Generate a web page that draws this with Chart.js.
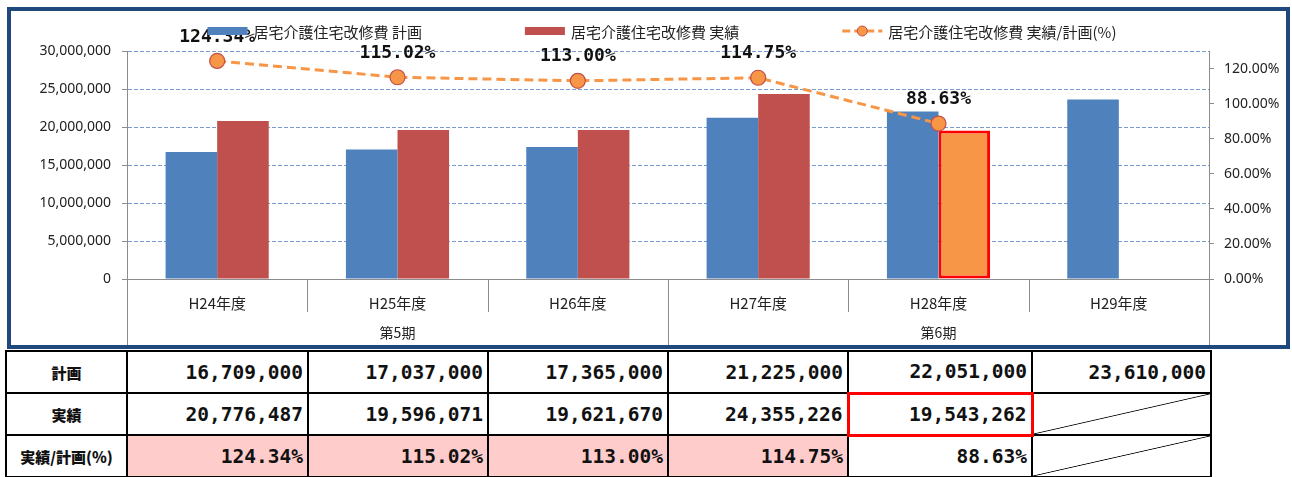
<!DOCTYPE html>
<html lang="ja">
<head>
<meta charset="utf-8">
<script src="https://cdn.jsdelivr.net/npm/chart.js@4.4.1/dist/chart.umd.min.js"></script>
<style>
  html, body { margin: 0; padding: 0; background: #fff; width: 1292px; height: 477px; overflow: hidden; }
  #box { position: absolute; left: 7px; top: 7px; width: 1283px; height: 342px; box-sizing: border-box; border: 4px solid #1F497D; background: #fff; }
  #chart { position: absolute; left: 0; top: 0; }
  #tbl { position: absolute; left: 5px; top: 350px; border-collapse: collapse; table-layout: fixed; }
  #tbl td { border: 2px solid #000; height: 38px; padding: 0 4px 0 0; text-align: right; font-family: "DejaVu Sans Mono", monospace; font-weight: bold; font-size: 19.5px; color: #111; box-sizing: border-box; }
  #tbl td.hd { text-align: center; padding: 0; font-family: "Noto Sans CJK JP", sans-serif; font-size: 15px; font-weight: 900; }
  #tbl td.pink { background: #FFCCCC; }
  #tbl td.hl { border: 3px solid #FF0000; }
  #tbl td.diag { background: linear-gradient(to top left, rgba(0,0,0,0) calc(50% - 0.8px), #000 50%, rgba(0,0,0,0) calc(50% + 0.8px)); }
</style>
</head>
<body>
<div id="box"><canvas id="chart" width="1275" height="334" style="width:1275px;height:334px"></canvas></div>
<table id="tbl"></table>
<script>
// ---- data ----
const categories = ['H24年度', 'H25年度', 'H26年度', 'H27年度', 'H28年度', 'H29年度'];
const periods = ['第5期', '第6期'];
const periodStart = [0, 3];
const periodEnd = [2, 5];
const planValues = [16709000, 17037000, 17365000, 21225000, 22051000, 23610000];
const actualValues = [20776487, 19596071, 19621670, 24355226, 19543262, null];
const ratioValues = [124.34, 115.02, 113.00, 114.75, 88.63, null];
const seriesNames = ['居宅介護住宅改修費 計画', '居宅介護住宅改修費 実績', '居宅介護住宅改修費 実績/計画(%)'];
const rowLabels = ['計画', '実績', '実績/計画(%)'];
const leftAxis = { min: 0, max: 30000000, step: 5000000 };
const rightAxis = { min: 0, max: 130, step: 20, lastLabel: 120 };
const highlightIndex = 4;

// ---- styles ----
const C_PLAN = '#4F81BD', C_ACT = '#C0504D', C_HL = '#F79646', C_HLB = '#FF0000';
const C_LINE = '#F79646', C_PTB = '#C0504D';
const C_AXIS = '#8C8C8C', C_GRID = '#7B9BD0', C_TEXT = '#222';
const CJK = "'Noto Sans CJK JP', 'Noto Sans', sans-serif";
const NUM = "'Noto Sans', sans-serif";

const fmt = v => v.toLocaleString('en-US');

const decor = {
  id: 'decor',
  afterDatasetsDraw(chart) {
    const ctx = chart.ctx;
    const meta = chart.getDatasetMeta(2);
    ctx.save();
    ctx.font = "bold 18px 'DejaVu Sans Mono', monospace";
    ctx.fillStyle = '#111';
    ctx.textAlign = 'center';
    ctx.textBaseline = 'middle';
    meta.data.forEach((pt, i) => {
      const v = ratioValues[i];
      if (v == null) return;
      ctx.fillText(v.toFixed(2) + '%', pt.x, pt.y - 24);
    });
    ctx.restore();
  },
  afterDraw(chart) {
    const ctx = chart.ctx;
    const xs = chart.scales.x;
    const area = chart.chartArea;
    const H = chart.height;
    ctx.save();
    ctx.strokeStyle = C_AXIS;
    ctx.lineWidth = 1;
    // category separators
    for (let i = 0; i <= categories.length; i++) {
      const x = Math.round(xs.getPixelForValue(i - 0.5)) + 0.5;
      const isGroupEdge = (i === 0 || i === categories.length || periodStart.includes(i));
      ctx.beginPath();
      ctx.moveTo(x, area.bottom);
      ctx.lineTo(x, isGroupEdge ? H : area.bottom + 33);
      ctx.stroke();
    }
    // period labels
    ctx.fillStyle = C_TEXT;
    ctx.font = "14px " + CJK;
    ctx.textAlign = 'center';
    ctx.textBaseline = 'middle';
    periods.forEach((p, k) => {
      const cx = (xs.getPixelForValue(periodStart[k]) + xs.getPixelForValue(periodEnd[k])) / 2;
      ctx.fillText(p, cx, area.bottom + 54);
    });
    // legend
    ctx.font = "15px " + CJK;
    ctx.textAlign = 'left';
    const symW = 40, gapT = 6, gapItem = 103;
    const widths = seriesNames.map(s => symW + gapT + ctx.measureText(s).width);
    const total = widths.reduce((a, b) => a + b, 0) + gapItem * (widths.length - 1);
    let x = 651 - total / 2;
    const ly = 20;
    const cols = [C_PLAN, C_ACT];
    seriesNames.forEach((s, k) => {
      if (k < 2) {
        ctx.fillStyle = cols[k];
        ctx.fillRect(x, ly - 4, symW, 8);
      } else {
        ctx.strokeStyle = C_LINE;
        ctx.lineWidth = 3;
        ctx.setLineDash([8, 4]);
        ctx.beginPath();
        ctx.moveTo(x, ly); ctx.lineTo(x + symW, ly);
        ctx.stroke();
        ctx.setLineDash([]);
        ctx.beginPath();
        ctx.arc(x + symW / 2, ly, 5, 0, Math.PI * 2);
        ctx.fillStyle = C_LINE; ctx.fill();
        ctx.lineWidth = 1; ctx.strokeStyle = C_PTB; ctx.stroke();
      }
      ctx.fillStyle = C_TEXT;
      ctx.fillText(s, x + symW + gapT, ly + 1);
      x += widths[k] + gapItem;
    });
    ctx.restore();
  }
};

new Chart(document.getElementById('chart'), {
  type: 'bar',
  data: {
    labels: categories,
    datasets: [
      { label: seriesNames[0], data: planValues, backgroundColor: C_PLAN, yAxisID: 'y', order: 2 },
      { label: seriesNames[1], data: actualValues,
        backgroundColor: actualValues.map((v, i) => i === highlightIndex ? C_HL : C_ACT),
        borderColor: actualValues.map((v, i) => i === highlightIndex ? C_HLB : C_ACT),
        borderWidth: actualValues.map((v, i) => i === highlightIndex ? 3 : 0),
        borderSkipped: false,
        yAxisID: 'y', order: 2 },
      { type: 'line', label: seriesNames[2], data: ratioValues, yAxisID: 'y2', order: 0,
        borderColor: C_LINE, borderWidth: 3, borderDash: [9, 5], tension: 0, fill: false,
        pointRadius: 7.5, pointHoverRadius: 7.5, pointBackgroundColor: C_LINE,
        pointBorderColor: C_PTB, pointBorderWidth: 1.2 }
    ]
  },
  options: {
    responsive: false,
    animation: false,
    devicePixelRatio: 1,
    datasets: { bar: { categoryPercentage: 0.572, barPercentage: 1.0 } },
    layout: { padding: { top: 40, left: 0, right: 0, bottom: 0 } },
    plugins: { legend: { display: false }, tooltip: { enabled: false } },
    scales: {
      x: {
        offset: true,
        grid: { display: true, offset: true, drawOnChartArea: false, drawTicks: false, color: C_AXIS },
        border: { display: true, color: C_AXIS, width: 1 },
        ticks: { padding: 15, color: C_TEXT, font: { size: 15, family: CJK }, maxRotation: 0, autoSkip: false },
        afterFit: s => { s.height = 66; }
      },
      y: {
        position: 'left',
        min: leftAxis.min, max: leftAxis.max,
        ticks: { stepSize: leftAxis.step, padding: 11, color: C_TEXT, font: { size: 14, family: NUM }, callback: v => fmt(v) },
        grid: { color: c => (c.tick && c.tick.value === 0) ? 'rgba(0,0,0,0)' : C_GRID, lineWidth: 1, drawTicks: true, tickLength: 5, tickColor: C_AXIS },
        border: { display: true, color: C_AXIS, width: 1, dash: [4, 2] },
        afterFit: s => { s.width = 116; }
      },
      y2: {
        position: 'right',
        min: rightAxis.min, max: rightAxis.max,
        ticks: { stepSize: rightAxis.step, padding: 10, color: C_TEXT, font: { size: 14, family: NUM }, callback: v => v.toFixed(2) + '%' },
        afterBuildTicks: s => { s.ticks = s.ticks.filter(t => t.value <= rightAxis.lastLabel + 1e-9); },
        grid: { drawOnChartArea: false, drawTicks: true, tickLength: 5, tickColor: C_AXIS, color: C_AXIS },
        border: { display: true, color: C_AXIS, width: 1 },
        afterFit: s => { s.width = 77; }
      }
    }
  },
  plugins: [decor]
});

// ---- table ----
const tbl = document.getElementById('tbl');
const colW = [121, 181, 180, 180, 180, 184, 179];
const cg = document.createElement('colgroup');
colW.forEach(w => { const c = document.createElement('col'); c.style.width = w + 'px'; cg.appendChild(c); });
tbl.appendChild(cg);
function addRow(label, vals, render, cls) {
  const tr = document.createElement('tr');
  tr.style.height = '42px';
  const th = document.createElement('td');
  th.className = 'hd'; th.textContent = label; tr.appendChild(th);
  vals.forEach((v, i) => {
    const td = document.createElement('td');
    if (v == null) { td.className = 'diag'; td.textContent = ''; }
    else { td.textContent = render(v); const c = cls(v, i); if (c) td.className = c; }
    tr.appendChild(td);
  });
  tbl.appendChild(tr);
}
addRow(rowLabels[0], planValues, fmt, () => '');
addRow(rowLabels[1], actualValues, fmt, (v, i) => i === highlightIndex ? 'hl' : '');
addRow(rowLabels[2], ratioValues, v => v.toFixed(2) + '%', v => v >= 100 ? 'pink' : '');
</script>
</body>
</html>
